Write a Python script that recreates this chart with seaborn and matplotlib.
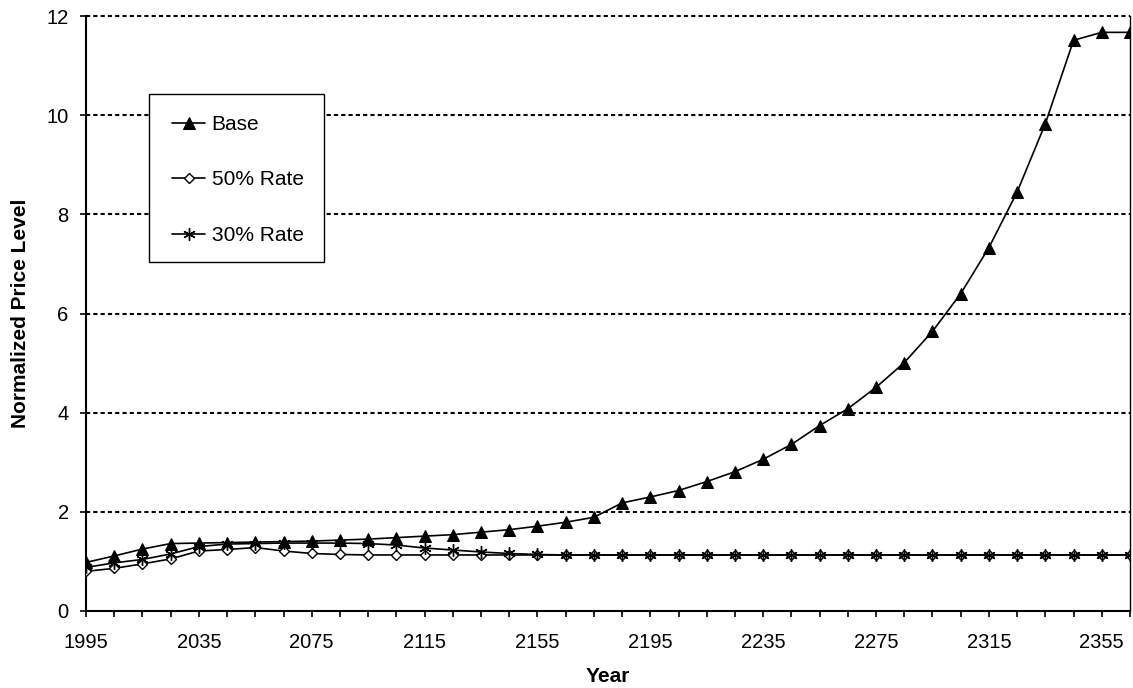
import numpy as np
import pandas as pd
import matplotlib
matplotlib.use("Agg")
import matplotlib.pyplot as plt
from matplotlib.patches import Rectangle
import seaborn as sns

# Data (10-year steps, 1995-2365)
years = list(range(1995, 2366, 10))
base = [0.98, 1.11, 1.25, 1.36, 1.37, 1.38, 1.39, 1.40, 1.41, 1.43,
        1.45, 1.48, 1.51, 1.54, 1.59, 1.64, 1.71, 1.79, 1.89, 2.18,
        2.30, 2.43, 2.61, 2.81, 3.06, 3.36, 3.74, 4.08, 4.51, 5.01,
        5.64, 6.40, 7.33, 8.45, 9.83, 11.51, 11.67, 11.67]
rate_50 = [0.80, 0.86, 0.95, 1.05, 1.21, 1.24, 1.28, 1.21, 1.16, 1.14,
           1.13, 1.13, 1.13, 1.13, 1.13, 1.13, 1.13, 1.13, 1.13, 1.13,
           1.13, 1.13, 1.13, 1.13, 1.13, 1.13, 1.13, 1.13, 1.13, 1.13,
           1.13, 1.13, 1.13, 1.13, 1.13, 1.13, 1.13, 1.13]
rate_30 = [0.88, 0.97, 1.04, 1.15, 1.30, 1.35, 1.36, 1.37, 1.37, 1.37,
           1.36, 1.33, 1.27, 1.23, 1.19, 1.16, 1.14, 1.13, 1.13, 1.13,
           1.13, 1.13, 1.13, 1.13, 1.13, 1.13, 1.13, 1.13, 1.13, 1.13,
           1.13, 1.13, 1.13, 1.13, 1.13, 1.13, 1.13, 1.13]
series_labels = ["Base", "50% Rate", "30% Rate"]
y_ticks = [0, 2, 4, 6, 8, 10, 12]

sns.set_style("white")
plt.rcParams['font.family'] = ['Liberation Sans', 'DejaVu Sans']
plt.rcParams.update({'text.color': 'black', 'axes.labelcolor': 'black',
                     'xtick.color': 'black', 'ytick.color': 'black'})

W, H = 1133, 688
fig = plt.figure(figsize=(W / 100, H / 100), dpi=100)
ax = fig.add_axes([86 / W, 1 - 611 / H, (1130 - 86) / W, (611 - 16) / H])

# Gridlines (dotted, Excel style)
for yv in y_ticks[1:]:
    ax.axhline(yv, color='black', lw=1.5, ls=(0, (2, 1.5)), zorder=1, clip_on=False)

sns.lineplot(x=years, y=base, ax=ax, color='black', lw=1.2, marker='^',
             markersize=8, markerfacecolor='black', markeredgecolor='black',
             label=series_labels[0], zorder=3)
sns.lineplot(x=years, y=rate_50, ax=ax, color='black', lw=1.2, marker='D',
             markersize=5, markerfacecolor='white', markeredgecolor='black',
             markeredgewidth=1.0, label=series_labels[1], zorder=3)
sns.lineplot(x=years, y=rate_30, ax=ax, color='black', lw=1.2, marker=(6, 2, 0),
             markersize=9, markeredgecolor='black', markeredgewidth=1.0,
             label=series_labels[2], zorder=3)

ax.set_xlim(years[0], years[-1])
ax.set_ylim(0, 12)
ax.set_yticks(y_ticks)
ax.set_yticklabels([str(v) for v in y_ticks], fontsize=14.5)
ax.set_xticks(years)
ax.set_xticklabels([str(y) if i % 4 == 0 else "" for i, y in enumerate(years)], fontsize=14.5)
ax.tick_params(axis='both', direction='out', length=4.5, width=1.2, color='black',
               labelcolor='black', bottom=True, left=True)
ax.tick_params(axis='x', pad=11)
ax.tick_params(axis='y', pad=8)

for side in ['left', 'bottom', 'right']:
    ax.spines[side].set_visible(True)
    ax.spines[side].set_color('black')
    ax.spines[side].set_linewidth(1.5)
ax.spines['right'].set_linewidth(1.0)
ax.spines['top'].set_visible(False)

ax.set_xlabel("Year", fontsize=15, fontweight='bold', color='black')
ax.set_ylabel("Normalized Price Level", fontsize=15, fontweight='bold', color='black')
ax.xaxis.set_label_coords(0.5, (611 - 667) / 595)
ax.yaxis.set_label_coords((30 - 86) / 1044, 0.5)

# Legend with an Excel-like box
leg = ax.legend(loc='upper left', bbox_to_anchor=(172 / W, 1 - 115 / H),
                bbox_transform=fig.transFigure, frameon=False, fontsize=15,
                handlelength=1.6, handletextpad=0.3, labelspacing=1.75,
                borderpad=0, borderaxespad=0, labelcolor='black')
ax.add_patch(Rectangle((149 / W, 1 - 262 / H), (324 - 149) / W, (262 - 94) / H,
                       transform=fig.transFigure, fill=True, facecolor='white',
                       edgecolor='black', lw=1.0, zorder=4, clip_on=False))
leg.set_zorder(5)

fig.savefig("out.png", dpi=100)
